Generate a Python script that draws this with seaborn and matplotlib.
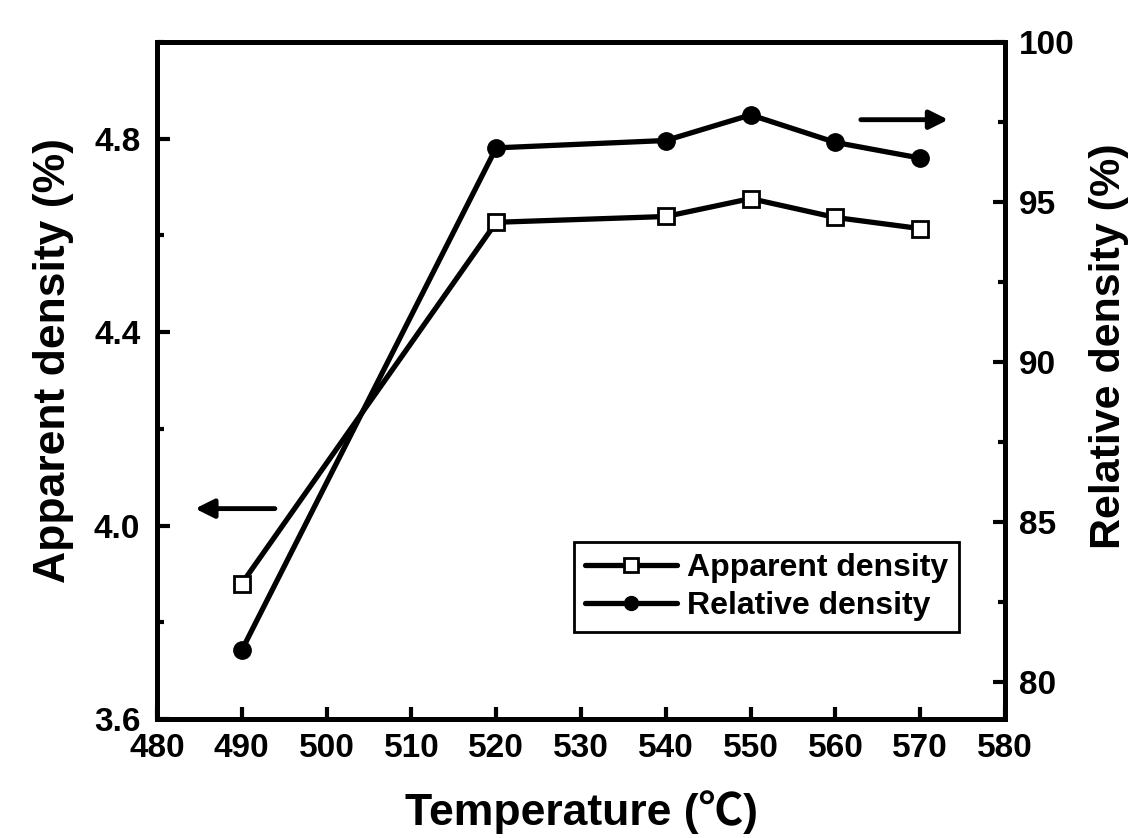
import matplotlib
matplotlib.use("Agg")
import matplotlib.pyplot as plt
import seaborn as sns
import pandas as pd
from matplotlib.ticker import MultipleLocator, FormatStrFormatter

# ---- data ----
temperature = [490, 520, 540, 550, 560, 570]
apparent_density = [3.88, 4.627, 4.639, 4.676, 4.637, 4.614]
relative_density = [81.0, 96.69, 96.92, 97.72, 96.86, 96.37]

x_ticks = [480, 490, 500, 510, 520, 530, 540, 550, 560, 570, 580]
left_ticks = [3.6, 4.0, 4.4, 4.8]
right_ticks = [80, 85, 90, 95, 100]

series_labels = ["Apparent density", "Relative density"]
x_title = "Temperature (\u2103)"
left_title = "Apparent density (%)"
right_title = "Relative density (%)"

# arrow annotations (start, end) in data coordinates
left_arrow = ((493.9, 4.035), (484.5, 4.035))
right_arrow = ((563.0, 97.57), (573.3, 97.57))

sns.set_theme(style="white")
plt.rcParams["font.family"] = ["Liberation Sans", "Noto Sans CJK SC", "DejaVu Sans"]
plt.rcParams["font.weight"] = "bold"
plt.rcParams["axes.labelweight"] = "bold"
for k in ("text.color", "axes.labelcolor", "xtick.color", "ytick.color",
          "xtick.labelcolor", "ytick.labelcolor", "axes.edgecolor"):
    plt.rcParams[k] = "black"

df = pd.DataFrame({"T": temperature, "AD": apparent_density, "RD": relative_density})

fig = plt.figure(figsize=(11.35, 8.38), dpi=100)
ax = fig.add_axes([0.1383, 0.1420, 0.7472, 0.8080])
ax2 = ax.twinx()

LW = 3.8
sns.lineplot(data=df, x="T", y="AD", ax=ax, color="black", lw=LW, marker="s",
             markersize=12, markerfacecolor="white", markeredgecolor="black",
             markeredgewidth=2, label=series_labels[0], legend=False, sort=True)
sns.lineplot(data=df, x="T", y="RD", ax=ax2, color="black", lw=LW, marker="o",
             markersize=12.5, markerfacecolor="black", markeredgecolor="black",
             markeredgewidth=1, label=series_labels[1], legend=False, sort=True)

ax.set_xlim(480, 580)
ax.set_ylim(3.6, 5.0)
ax2.set_ylim(78.85, 100)

ax.set_xticks(x_ticks)
ax.set_yticks(left_ticks)
ax.yaxis.set_minor_locator(MultipleLocator(0.2))
ax.yaxis.set_major_formatter(FormatStrFormatter("%.1f"))
ax2.set_yticks(right_ticks)
ax2.yaxis.set_minor_locator(MultipleLocator(2.5))

for a in (ax, ax2):
    for s in a.spines.values():
        s.set_linewidth(3.6)
        s.set_color("black")
        s.set_visible(True)

ax.tick_params(axis="x", which="major", direction="in", length=9, width=3,
               labelsize=24, pad=10, top=False, bottom=True)
ax.tick_params(axis="y", which="major", direction="in", length=9, width=3,
               labelsize=24, pad=12, left=True, right=False)
ax.tick_params(axis="y", which="minor", direction="in", length=5, width=3,
               left=True, right=False)
ax2.tick_params(axis="y", which="major", direction="in", length=9, width=3,
                labelsize=24, pad=10, right=True, left=False)
ax2.tick_params(axis="y", which="minor", direction="in", length=5, width=3,
                right=True, left=False)

for lab in ax.get_xticklabels() + ax.get_yticklabels() + ax2.get_yticklabels():
    lab.set_fontweight("bold")

ax.set_xlabel(x_title, fontsize=32, fontweight="bold")
ax.set_ylabel(left_title, fontsize=32, fontweight="bold")
ax2.set_ylabel(right_title, fontsize=31, fontweight="bold")
ax.xaxis.set_label_coords(0.5, -0.105)
ax.yaxis.set_label_coords(-0.098, 0.53)
ax2.yaxis.set_label_coords(1.099, 0.55)

arrow_kw = dict(arrowstyle="-|>", lw=3.5, color="black", mutation_scale=28,
                shrinkA=0, shrinkB=0)
ax.annotate("", xy=left_arrow[1], xytext=left_arrow[0], arrowprops=arrow_kw)
ax2.annotate("", xy=right_arrow[1], xytext=right_arrow[0], arrowprops=arrow_kw)

handles = [ax.get_lines()[0], ax2.get_lines()[0]]
leg = ax2.legend(handles, series_labels, loc="lower right",
                 bbox_to_anchor=(0.965, 0.105), frameon=True, fancybox=False,
                 framealpha=1, edgecolor="black", prop={"weight": "bold", "size": 23},
                 handlelength=2.9, handletextpad=0.3, borderpad=0.35,
                 labelspacing=0.25, markerscale=0.8)
leg.get_frame().set_linewidth(2)

fig.savefig("out.png", dpi=100)
